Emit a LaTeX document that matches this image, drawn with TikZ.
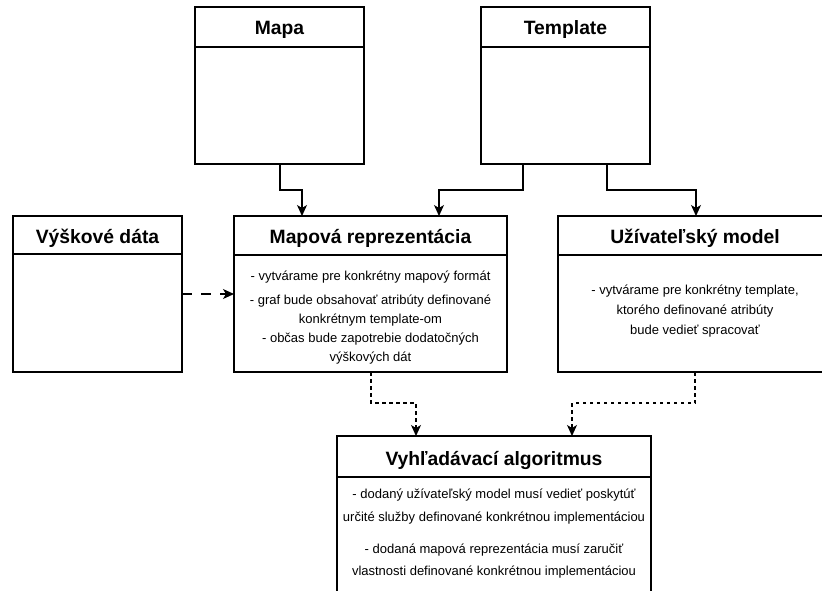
\documentclass[tikz,border=0pt]{standalone}
\usepackage{fontspec}
\setmainfont{Liberation Sans}
\usetikzlibrary{arrows.meta,calc}
\begin{document}
\begin{tikzpicture}[x=1pt,y=-1pt,
  box/.style={draw=black, line width=1.2pt, rectangle, anchor=north west, inner sep=0pt, outer sep=0pt, fill=white},
  ttl/.style={font=\fontsize{19.3}{22}\selectfont\bfseries, inner sep=0pt, anchor=base},
  body/.style={font=\fontsize{13}{19}\selectfont, align=center, inner sep=0pt},
  conn/.style={draw=black, line width=1.1pt, -{Stealth[length=11pt,width=10pt,inset=3pt]}},
  dconn/.style={conn, dash pattern=on 10pt off 9pt},
  sconn/.style={conn, dash pattern=on 3.5pt off 3.5pt}]
\useasboundingbox (0,0) rectangle (822,590);
\clip (0,0) rectangle (822,590);

% boxes
\node[box, minimum width=169, minimum height=157] (mapa) at (195,7) {};
\node[box, minimum width=169, minimum height=157] (templ) at (481,7) {};
\node[box, minimum width=169, minimum height=156] (vysk) at (13,216) {};
\node[box, minimum width=273, minimum height=156] (mapr) at (234,216) {};
\node[box, minimum width=274, minimum height=156] (uziv) at (558,216) {};
\node[box, minimum width=314, minimum height=170] (vyhl) at (337,436) {};

% header separators
\draw[line width=1.2pt] ($(mapa.north west)+(0,40)$) -- ($(mapa.north east)+(0,40)$);
\draw[line width=1.2pt] ($(templ.north west)+(0,40)$) -- ($(templ.north east)+(0,40)$);
\draw[line width=1.2pt] ($(vysk.north west)+(0,38)$) -- ($(vysk.north east)+(0,38)$);
\draw[line width=1.2pt] ($(mapr.north west)+(0,39)$) -- ($(mapr.north east)+(0,39)$);
\draw[line width=1.2pt] ($(uziv.north west)+(0,39)$) -- ($(uziv.north east)+(0,39)$);
\draw[line width=1.2pt] ($(vyhl.north west)+(0,41)$) -- ($(vyhl.north east)+(0,41)$);

% titles
\node[ttl] (mapaT) at (279.5,34.8) {Mapa};
\node[ttl] (templT) at (565.5,34.8) {Template};
\node[ttl] (vyskT) at (97.5,243.3) {Výškové dáta};
\node[ttl] (maprT) at (370.5,243) {Mapová reprezentácia};
\node[ttl] (uzivT) at (695,243.3) {Užívateľský model};
\node[ttl] (vyhlT) at (494,465) {Vyhľadávací algoritmus};

% body texts
\node[body] (maprB1) at (370.5,277) {- vytvárame pre konkrétny mapový formát};
\node[body] (maprB2) at (370.5,310.5) {- graf bude obsahovať atribúty definované\\konkrétnym template-om};
\node[body] (maprB3) at (370.5,348.5) {- občas bude zapotrebie dodatočných\\výškových dát};
\node[body, font=\fontsize{13}{20}\selectfont] (uzivB) at (695,311) {- vytvárame pre konkrétny template,\\ktorého definované atribúty\\bude vedieť spracovať};
\node[body, font=\fontsize{13}{23}\selectfont] (vyhlB1) at (494,506.5) {- dodaný užívateľský model musí vedieť poskytúť\\určité služby definované konkrétnou implementáciou};
\node[body, font=\fontsize{13}{22}\selectfont] (vyhlB2) at (494,561) {- dodaná mapová reprezentácia musí zaručiť\\vlastnosti definované konkrétnou implementáciou};

% connectors
\draw[conn] ($(mapa.south west)+(85,0)$) -- ++(0,26) -| ($(mapr.north west)+(68,0)$);
\draw[conn] ($(templ.south west)+(42,0)$) -- ++(0,26) -| ($(mapr.north west)+(205,0)$);
\draw[conn] ($(templ.south west)+(126,0)$) -- ++(0,26) -| ($(uziv.north west)+(138,0)$);
\draw[dconn] (vysk.east) -- (mapr.west);
\draw[sconn] ($(mapr.south west)+(137,0)$) -- ++(0,31) -| ($(vyhl.north west)+(79,0)$);
\draw[sconn] ($(uziv.south west)+(137,0)$) -- ++(0,31) -| ($(vyhl.north west)+(235,0)$);
\end{tikzpicture}
\end{document}
